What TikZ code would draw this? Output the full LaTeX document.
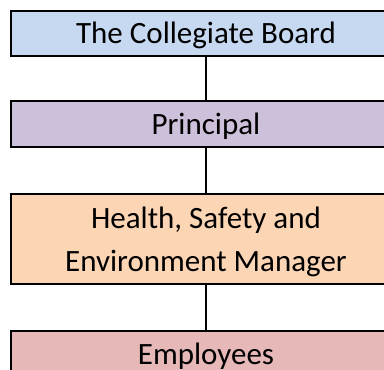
\documentclass[tikz,border=0pt]{standalone}
\usepackage{fontspec}
\setmainfont{Carlito}
\usetikzlibrary{positioning}
\definecolor{boardblue}{HTML}{C6D9F1}
\definecolor{principalpurple}{HTML}{CCC0DA}
\definecolor{managerorange}{HTML}{FCD5B4}
\definecolor{staffpink}{HTML}{E6B8B7}

\begin{document}
\begin{tikzpicture}[x=1pt, y=1pt,
  level/.style={draw=black, line width=1.8pt, minimum width=390pt,
    inner sep=0pt, outer sep=0pt, text depth=0pt, align=center,
    font=\fontsize{31}{43}\selectfont},
  link/.style={line width=1.8pt}]

%---------------------------------------
% Frame
%---------------------------------------
\useasboundingbox (0,0) rectangle (384,370);

%---------------------------------------
% Levels of the hierarchy
%---------------------------------------
\node[level, fill=boardblue, minimum height=45pt, anchor=north]
  (board) at (206,359.3) {The Collegiate Board};
\node[level, fill=principalpurple, minimum height=46pt, below=45.3pt of board]
  (principal) {Principal};
\node[level, fill=managerorange, minimum height=90pt, below=47pt of principal]
  (manager) {Health, Safety and\\Environment Manager};
\node[level, fill=staffpink, minimum height=45pt, below=47pt of manager]
  (staff) {Employees};

% Links between levels
\draw[link] (board.south) -- (principal.north);
\draw[link] (principal.south) -- (manager.north);
\draw[link] (manager.south) -- (staff.north);

\end{tikzpicture}
\end{document}
